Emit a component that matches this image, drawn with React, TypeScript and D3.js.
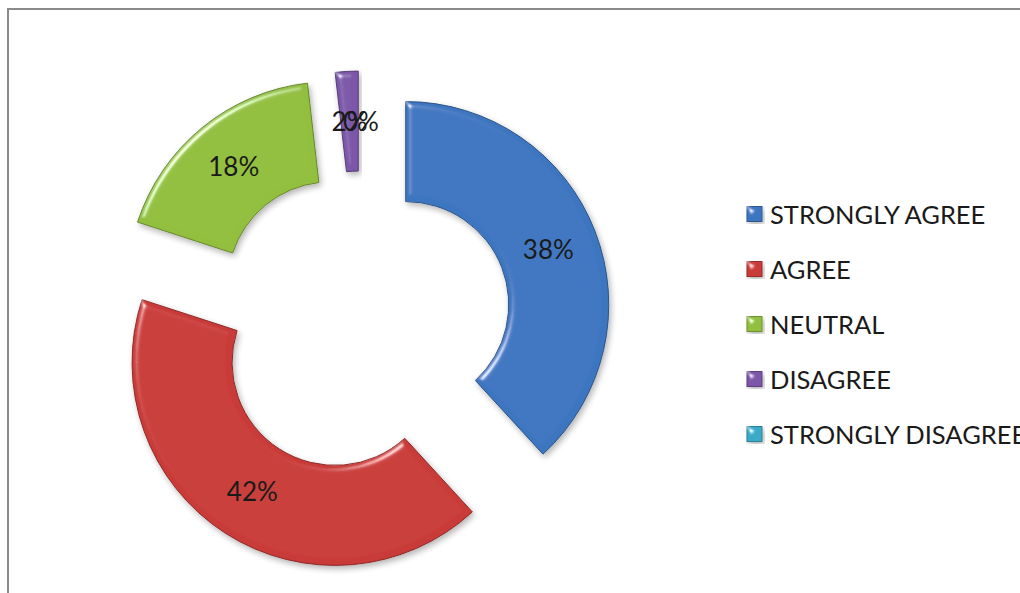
import React from "react";
import * as d3 from "d3";

const categories = ["STRONGLY AGREE", "AGREE", "NEUTRAL", "DISAGREE", "STRONGLY DISAGREE"];
const counts = [21, 23, 10, 1, 0];
const colors = ["#3D76C0", "#C93A37", "#92BF3D", "#7B57A8", "#3AAAC6"];

const W = 1020;
const H = 593;
const CX = 361;
const CY = 322;
const R_OUT = 203;
const R_IN = 103;
const EXPLODE = 48;

export default function App() {
  const total = d3.sum(counts);
  const pie = d3.pie<number>().value((d) => d).sort(null);
  const arcs = pie(counts);
  const arcGen = d3.arc<d3.PieArcDatum<number>>().innerRadius(R_IN).outerRadius(R_OUT);
  const labelArc = d3
    .arc<d3.PieArcDatum<number>>()
    .innerRadius((R_IN + R_OUT) / 2)
    .outerRadius((R_IN + R_OUT) / 2);
  const fmt = (v: number) => `${Math.round((v / total) * 100)}%`;

  return (
    <svg
      width={W}
      height={H}
      style={{ position: "absolute", left: 0, top: 0, background: "#fff" }}
      fontFamily="Lato, 'Open Sans', sans-serif"
    >
      <defs>
        <filter id="bevel" x="-15%" y="-15%" width="130%" height="130%">
          <feGaussianBlur in="SourceAlpha" stdDeviation="3" result="blur" />
          <feSpecularLighting
            in="blur"
            surfaceScale="4"
            specularConstant="0.7"
            specularExponent="45"
            lightingColor="#ffffff"
            result="spec"
          >
            <feDistantLight azimuth={225} elevation={40} />
          </feSpecularLighting>
          <feComposite in="spec" in2="SourceAlpha" operator="in" result="specIn" />
          <feComposite
            in="SourceGraphic"
            in2="specIn"
            operator="arithmetic"
            k1="0"
            k2="1"
            k3="1"
            k4="0"
            result="lit"
          />
          <feGaussianBlur in="SourceAlpha" stdDeviation="3" result="sh" />
          <feOffset in="sh" dx="2" dy="3" result="shOff" />
          <feComponentTransfer in="shOff" result="shA">
            <feFuncA type="linear" slope="0.3" />
          </feComponentTransfer>
          <feMerge>
            <feMergeNode in="shA" />
            <feMergeNode in="lit" />
          </feMerge>
        </filter>
      </defs>

      {/* chart frame */}
      <rect x={8} y={9} width={1200} height={800} fill="#fff" stroke="#8a8a8a" strokeWidth={2} />

      {arcs.map((a, i) => {
        const mid = (a.startAngle + a.endAngle) / 2;
        const dx = Math.sin(mid) * EXPLODE;
        const dy = -Math.cos(mid) * EXPLODE;
        const col = d3.color(colors[i])!;
        return (
          <g key={categories[i]} transform={`translate(${CX + dx},${CY + dy})`}>
            {a.endAngle > a.startAngle && (
              <path
                d={arcGen(a) || ""}
                fill={colors[i]}
                stroke={col.darker(1).formatHex()}
                strokeWidth={1}
                filter="url(#bevel)"
              />
            )}
          </g>
        );
      })}

      {arcs.map((a, i) => {
        const mid = (a.startAngle + a.endAngle) / 2;
        const dx = Math.sin(mid) * EXPLODE;
        const dy = -Math.cos(mid) * EXPLODE;
        const [lx, ly] = labelArc.centroid(a);
        return (
          <text
            key={"l" + categories[i]}
            x={CX + dx + lx}
            y={CY + dy + ly}
            textAnchor="middle"
            dominantBaseline="central"
            fontSize={26}
            fill="#1a1a1a"
          >
            {fmt(counts[i])}
          </text>
        );
      })}

      {categories.map((c, i) => {
        const y = 214 + i * 55;
        const col = d3.color(colors[i])!;
        return (
          <g key={"lg" + c}>
            <rect
              x={747}
              y={y - 7.5}
              width={15}
              height={15}
              fill={colors[i]}
              stroke={col.darker(0.8).formatHex()}
              strokeWidth={1}
              filter="url(#bevel)"
            />
            <text x={770} y={y} dominantBaseline="central" fontSize={25.5} fill="#1a1a1a">
              {c}
            </text>
          </g>
        );
      })}
    </svg>
  );
}
